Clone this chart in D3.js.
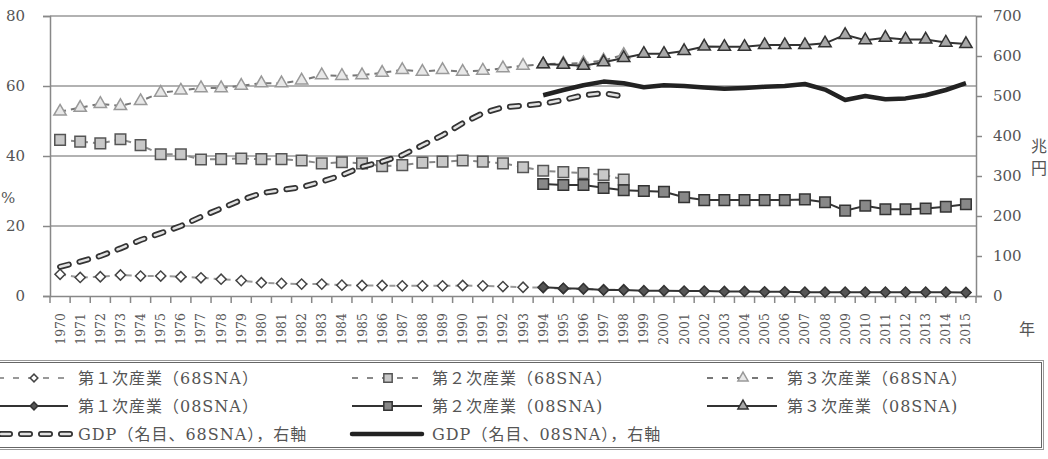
<!DOCTYPE html>
<html>
<head>
<meta charset="utf-8">
<script src="https://cdn.jsdelivr.net/npm/d3@7"></script>
<style>
  body { margin: 0; background: #fff; }
  svg { display: block; }
  text { font-family: "DejaVu Serif", "Noto Sans CJK JP", serif; fill: #555; }
</style>
</head>
<body>
<svg width="1048" height="459"></svg>
<script>
let years = [1970,1971,1972,1973,1974,1975,1976,1977,1978,1979,1980,1981,1982,1983,1984,1985,1986,1987,1988,1989,
  1990,1991,1992,1993,1994,1995,1996,1997,1998,1999,2000,2001,2002,2003,2004,2005,2006,2007,2008,2009,
  2010,2011,2012,2013,2014,2015];

// 68SNA: 1970-1998
let years68 = years.slice(0, 29);
let prim68 = [6.2,5.3,5.5,6.0,5.7,5.7,5.5,5.2,4.8,4.4,3.8,3.6,3.4,3.4,3.1,3.0,3.0,2.9,2.9,2.9,3.0,2.9,2.7,2.5,2.4,2.1,2.0,1.8,1.8];
let sec68 = [44.6,44.1,43.6,44.8,43.1,40.5,40.5,39.0,39.1,39.3,39.1,39.1,38.7,37.9,38.2,37.9,37.1,37.4,38.1,38.4,38.7,38.4,37.9,36.8,35.8,35.4,35.1,34.6,33.3];
let ter68 = [52.7,53.8,54.9,54.3,55.7,58.1,58.7,59.4,59.4,60.1,60.8,60.8,61.6,63.1,62.9,63.1,63.8,64.6,64.1,64.6,64.1,64.4,65.1,65.8,66.2,66.4,66.5,67.3,68.9];
let gdp68 = [73,86,100,119,140,157,175,198,219,240,257,265,272,286,302,323,336,352,377,402,432,457,472,476,481,490,502,507,499];

// 08SNA: 1994-2015
let years08 = years.slice(24);
let prim08 = [2.5,2.2,2.1,1.7,1.7,1.5,1.5,1.4,1.4,1.3,1.3,1.2,1.2,1.1,1.1,1.1,1.1,1.1,1.1,1.1,1.1,1.0];
let sec08 = [32.0,31.7,31.7,30.9,30.2,30.0,29.8,28.2,27.4,27.4,27.4,27.4,27.4,27.6,26.8,24.4,25.8,24.8,24.8,25.0,25.5,26.2];
let ter08 = [66.2,66.1,65.8,66.8,68.0,69.2,69.2,70.0,71.3,71.2,71.2,71.7,71.7,71.7,72.2,74.6,73.1,73.8,73.3,73.3,72.4,72.0];
let gdp08 = [502,515,527,536,532,522,527,525,521,518,520,523,525,530,516,490,500,492,494,502,515,532];

let leftTicks = [0,20,40,60,80];
let rightTicks = [0,100,200,300,400,500,600,700];

let legendLabels = [
  ["第１次産業（68SNA）", "第２次産業（68SNA）", "第３次産業（68SNA）"],
  ["第１次産業（08SNA）", "第２次産業（08SNA)", "第３次産業（08SNA)"],
  ["GDP（名目、68SNA），右軸", "GDP（名目、08SNA），右軸"]
];

function drawChart() {
  let svg = d3.select("svg");

  let x = d3.scaleBand().domain(years).range([50, 976]);
  let yL = d3.scaleLinear().domain([0, 80]).range([296, 16]);
  let yR = d3.scaleLinear().domain([0, 700]).range([296, 16]);
  let cx = yr => x(yr) + x.bandwidth() / 2;

  // grid
  svg.append("g")
    .selectAll("line")
    .data(leftTicks.slice(1))
    .join("line")
    .attr("x1", 50).attr("x2", 976)
    .attr("y1", d => yL(d)).attr("y2", d => yL(d))
    .style("stroke", "#999")
    .style("stroke-width", "1.5px");

  // left axis
  let gl = svg.append("g")
    .attr("transform", "translate(50,0)")
    .call(d3.axisLeft(yL).tickValues(leftTicks).tickSize(7).tickPadding(18));
  gl.selectAll("line, path").style("stroke", "#888").style("stroke-width", "1.5px");
  gl.selectAll("text").style("font-size", "15px").style("font-family", "DejaVu Serif").attr("fill", "#555");

  // right axis
  let gr = svg.append("g")
    .attr("transform", "translate(976,0)")
    .call(d3.axisRight(yR).tickValues(rightTicks).tickSize(6).tickPadding(11));
  gr.selectAll("line, path").style("stroke", "#888").style("stroke-width", "1.5px");
  gr.selectAll("text").style("font-size", "15px").style("font-family", "DejaVu Serif").attr("fill", "#555");

  // bottom axis
  let gb = svg.append("g")
    .attr("transform", "translate(0,296)")
    .call(d3.axisBottom(x).tickSize(0).tickSizeOuter(0));
  gb.select("path").style("stroke", "#888").style("stroke-width", "1.5px");
  gb.selectAll("text")
    .attr("transform", "rotate(-90)")
    .attr("x", -17).attr("y", 0).attr("dy", "0.36em")
    .style("text-anchor", "end")
    .style("font-size", "12.5px")
    .style("font-family", "DejaVu Serif")
    .attr("fill", "#555");

  let bounds = years.map(d => x(d)).concat([x(2015) + x.bandwidth()]);
  svg.append("g")
    .selectAll("line")
    .data(bounds)
    .join("line")
    .attr("x1", d => d).attr("x2", d => d)
    .attr("y1", 296).attr("y2", 303)
    .style("stroke", "#888")
    .style("stroke-width", "1.5px");

  // unit labels
  svg.append("text").attr("x", 1).attr("y", 203)
    .style("font-size", "15px").text("%");
  svg.append("text").attr("x", 1031).attr("y", 152).style("font-size", "16px").text("兆");
  svg.append("text").attr("x", 1031).attr("y", 174).style("font-size", "16px").text("円");
  svg.append("text").attr("x", 1019).attr("y", 335).style("font-size", "16px").text("年");

  let lineL = (yrs, vals) => d3.line().x((d, i) => cx(yrs[i])).y(d => yL(d))(vals);
  let lineR = (yrs, vals) => d3.line().x((d, i) => cx(yrs[i])).y(d => yR(d))(vals);

  let diamond = d3.symbol().type(d3.symbolSquare).size(52);
  let square = d3.symbol().type(d3.symbolSquare).size(112);
  let triangle = d3.symbol().type(d3.symbolTriangle).size(66);

  let series = [
    {yrs: years68, vals: prim68, sym: diamond, rot: 45, fill: "#fff", stroke: "#444", dash: "6,5", lc: "#999"},
    {yrs: years68, vals: sec68, sym: square, rot: 0, fill: "#c8c8c8", stroke: "#555", dash: "6,5", lc: "#888"},
    {yrs: years68, vals: ter68, sym: triangle, rot: 0, fill: "#e8e8e8", stroke: "#999", dash: "6,5", lc: "#777"},
    {yrs: years08, vals: prim08, sym: diamond, rot: 45, fill: "#555", stroke: "#333", dash: null, lc: "#333"},
    {yrs: years08, vals: sec08, sym: square, rot: 0, fill: "#888", stroke: "#333", dash: null, lc: "#333"},
    {yrs: years08, vals: ter08, sym: triangle, rot: 0, fill: "#a8a8a8", stroke: "#333", dash: null, lc: "#333"}
  ];

  function drawSeries(s) {
    svg.append("path")
      .attr("d", lineL(s.yrs, s.vals))
      .style("fill", "none")
      .style("stroke", s.lc)
      .style("stroke-width", "2px")
      .style("stroke-dasharray", s.dash);
    svg.append("g")
      .selectAll("path")
      .data(s.vals)
      .join("path")
      .attr("d", s.sym)
      .attr("transform", (d, i) => "translate(" + cx(s.yrs[i]) + "," + yL(d) + ") rotate(" + s.rot + ")")
      .style("fill", s.fill)
      .style("stroke", s.stroke)
      .style("stroke-width", "1.5px");
  }

  series.slice(0, 3).forEach(drawSeries);

  // GDP 68SNA: outlined capsule dashes
  svg.append("path")
    .attr("d", lineR(years68, gdp68))
    .style("fill", "none").style("stroke", "#333").style("stroke-width", "6px")
    .style("stroke-linecap", "round").style("stroke-dasharray", "9,11");
  svg.append("path")
    .attr("d", lineR(years68, gdp68))
    .style("fill", "none").style("stroke", "#e2e2e2").style("stroke-width", "2.5px")
    .style("stroke-linecap", "round").style("stroke-dasharray", "9,11");

  series.slice(3).forEach(drawSeries);

  // GDP 08SNA
  svg.append("path")
    .attr("d", lineR(years08, gdp08))
    .style("fill", "none").style("stroke", "#222").style("stroke-width", "4.5px")
    .style("stroke-linejoin", "round");

  // legend
  svg.append("rect").attr("x", -5).attr("y", 360.5).attr("width", 1048.5).attr("height", 89)
    .style("fill", "none").style("stroke", "#999").style("stroke-width", "1px");
  svg.append("rect").attr("x", -5).attr("y", 362.5).attr("width", 1046.5).attr("height", 85)
    .style("fill", "none").style("stroke", "#666").style("stroke-width", "1px");

  let colX = [-2, 352, 707];
  let rowY = [378, 406, 434];
  let legSym = [
    [series[0], series[1], series[2]],
    [series[3], series[4], series[5]]
  ];
  let smallDiamond = d3.symbol().type(d3.symbolSquare).size(30);
  let smallSquare = d3.symbol().type(d3.symbolSquare).size(70);
  let smallTri = d3.symbol().type(d3.symbolTriangle).size(45);
  let smallSyms = [smallDiamond, smallSquare, smallTri];

  let lg = svg.append("g");
  legSym.forEach((row, r) => {
    row.forEach((s, c) => {
      let x0 = colX[c], yy = rowY[r];
      lg.append("line")
        .attr("x1", x0).attr("x2", x0 + 70).attr("y1", yy).attr("y2", yy)
        .style("stroke", s.lc).style("stroke-width", "2px")
        .style("stroke-dasharray", s.dash ? "6,9" : null);
      lg.append("path")
        .attr("d", smallSyms[c])
        .attr("transform", "translate(" + (x0 + 36) + "," + yy + ") rotate(" + s.rot + ")")
        .style("fill", s.fill).style("stroke", s.stroke).style("stroke-width", "1.5px");
    });
  });

  // GDP legend symbols
  lg.append("line").attr("x1", 1).attr("x2", 70).attr("y1", rowY[2]).attr("y2", rowY[2])
    .style("stroke", "#333").style("stroke-width", "6px")
    .style("stroke-linecap", "round").style("stroke-dasharray", "9,11");
  lg.append("line").attr("x1", 1).attr("x2", 70).attr("y1", rowY[2]).attr("y2", rowY[2])
    .style("stroke", "#e2e2e2").style("stroke-width", "2.5px")
    .style("stroke-linecap", "round").style("stroke-dasharray", "9,11");
  lg.append("line").attr("x1", colX[1]).attr("x2", colX[1] + 70).attr("y1", rowY[2]).attr("y2", rowY[2])
    .style("stroke", "#222").style("stroke-width", "4.5px").style("stroke-linecap", "round");

  legendLabels.forEach((row, r) => {
    row.forEach((t, c) => {
      lg.append("text")
        .attr("x", colX[c] + 80)
        .attr("y", rowY[r])
        .attr("dy", "0.36em")
        .style("font-size", "16px")
        .style("letter-spacing", "1px")
        .text(t);
    });
  });
}

drawChart();
</script>
</body>
</html>
